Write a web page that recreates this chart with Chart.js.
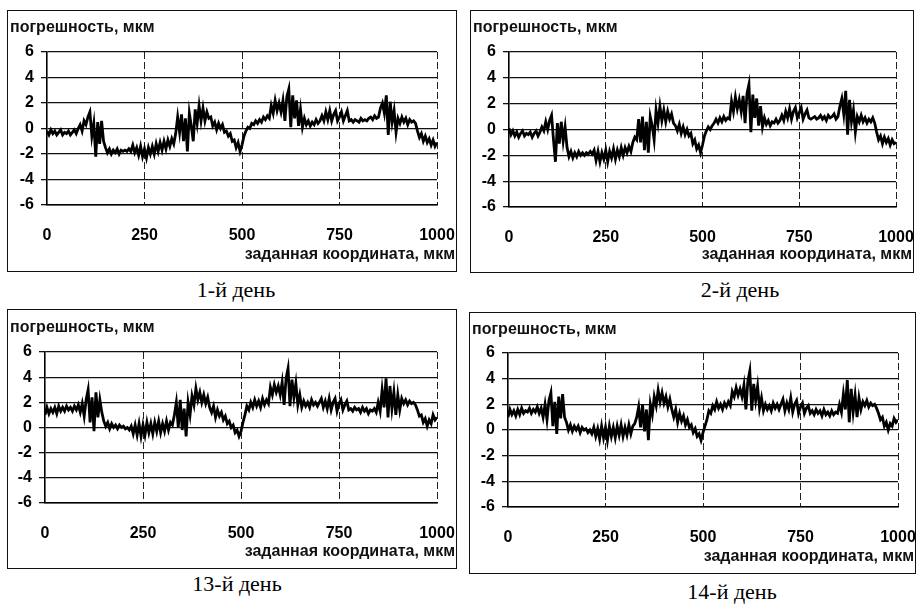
<!DOCTYPE html>
<html>
<head>
<meta charset="utf-8">
<script src="https://cdn.jsdelivr.net/npm/chart.js@4.4.0/dist/chart.umd.min.js"></script>
<style>
  body { margin: 0; background: #fff; width: 916px; height: 605px; position: relative; overflow: hidden; }
  .panel { position: absolute; }
  .panel canvas { position: absolute; left: 0; top: 0; }
  .panel::after { content: ''; position: absolute; left: 0; top: 0; right: 0; bottom: 0; border: 1.5px solid #111; pointer-events: none; }
  .ytitle { position: absolute; left: 3px; font: bold 16px "Liberation Sans", Arial, sans-serif; color: #111; white-space: nowrap; }
  .xtitle { position: absolute; right: 2px; font: bold 16px "Liberation Sans", Arial, sans-serif; color: #111; white-space: nowrap; }
  .caption { position: absolute; font: 22px "Liberation Serif", "Times New Roman", serif; color: #000; transform: translateX(-50%); white-space: nowrap; }
</style>
</head>
<body>

<div class="panel" id="p1" style="left:7px;top:10px;width:450px;height:262px">
  <canvas id="c1" width="450" height="262"></canvas>
  <div class="ytitle" style="top:8px">погрешность, мкм</div>
  <div class="xtitle" style="top:235px">заданная координата, мкм</div>
</div>
<div class="caption" style="left:236px;top:277px">1-й день</div>

<div class="panel" id="p2" style="left:470px;top:10px;width:444px;height:263px">
  <canvas id="c2" width="444" height="263"></canvas>
  <div class="ytitle" style="top:8px">погрешность, мкм</div>
  <div class="xtitle" style="top:235px">заданная координата, мкм</div>
</div>
<div class="caption" style="left:740px;top:277px">2-й день</div>

<div class="panel" id="p3" style="left:7px;top:309px;width:450px;height:260px">
  <canvas id="c3" width="450" height="260"></canvas>
  <div class="ytitle" style="top:9px">погрешность, мкм</div>
  <div class="xtitle" style="top:233px">заданная координата, мкм</div>
</div>
<div class="caption" style="left:237px;top:571px">13-й день</div>

<div class="panel" id="p4" style="left:469px;top:312px;width:447px;height:262px">
  <canvas id="c4" width="447" height="262"></canvas>
  <div class="ytitle" style="top:8px">погрешность, мкм</div>
  <div class="xtitle" style="top:235px">заданная координата, мкм</div>
</div>
<div class="caption" style="left:732px;top:579px">14-й день</div>

<script>
// sample positions along the axis, мкм
const positions = [
  0, 5, 10, 15, 20, 25, 30, 35, 40, 45, 50, 55, 60, 65, 70, 75, 80, 85, 90, 95,
  100, 105, 110, 115, 120, 125, 130, 135, 140, 145, 150, 155, 160, 165, 170, 175, 180, 185, 190, 195,
  200, 205, 210, 215, 220, 225, 230, 235, 240, 245, 250, 255, 260, 265, 270, 275, 280, 285, 290, 295,
  300, 305, 310, 315, 320, 325, 330, 335, 340, 345, 350, 355, 360, 365, 370, 375, 380, 385, 390, 395,
  400, 405, 410, 415, 420, 425, 430, 435, 440, 445, 450, 455, 460, 465, 470, 475, 480, 485, 490, 495,
  500, 505, 510, 515, 520, 525, 530, 535, 540, 545, 550, 555, 560, 565, 570, 575, 580, 585, 590, 595,
  600, 605, 610, 615, 620, 625, 630, 635, 640, 645, 650, 655, 660, 665, 670, 675, 680, 685, 690, 695,
  700, 705, 710, 715, 720, 725, 730, 735, 740, 745, 750, 755, 760, 765, 770, 775, 780, 785, 790, 795,
  800, 805, 810, 815, 820, 825, 830, 835, 840, 845, 850, 855, 860, 865, 870, 875, 880, 885, 890, 895,
  900, 905, 910, 915, 920, 925, 930, 935, 940, 945, 950, 955, 960, 965, 970, 975, 980, 985, 990, 995,
  1000
];

// погрешность, мкм — 1-й день
const day1 = [
  -0.2, -0.5, -0.1, -0.4, -0.2, -0.5, -0.3, -0.1, -0.5, -0.3,
  -0.4, -0.2, -0.5, -0.3, -0.1, -0.4, 0.0, 0.3, -0.2, 0.6,
  0.3, 0.9, 1.3, -0.6, 0.4, -2.2, 0.5, -1.2, 0.6, -1.0,
  -1.5, -1.9, -1.6, -2.0, -1.7, -1.9, -1.6, -2.0, -1.7, -1.8,
  -1.7, -1.8, -1.6, -1.8, -1.3, -1.9, -1.5, -2.1, -1.4, -2.2,
  -1.6, -2.3, -1.5, -2.0, -1.4, -2.0, -1.2, -1.8, -1.1, -1.7,
  -1.0, -1.6, -0.9, -1.4, -0.8, -1.2, -0.4, 0.9, -0.3, 1.1,
  -1.0, 0.8, -1.8, 1.2, 0.2, -1.0, 1.5, 0.4, 1.8, 0.6,
  1.6, 0.6, 1.3, 0.8, 0.9, 0.2, 0.5, -0.1, 0.4, 0.0,
  0.3, -0.3, -0.2, -0.6, -0.4, -1.0, -0.9, -1.5, -1.1, -1.8,
  -1.3, -0.6, -0.2, 0.1, 0.0, 0.4, 0.3, 0.6, 0.4, 0.7,
  0.5, 0.9, 0.7, 1.0, 0.8, 1.8, 1.2, 2.2, 1.4, 2.0,
  1.3, 2.2, 0.6, 2.5, 3.1, 0.1, 2.6, 0.8, 2.2, 0.2,
  1.5, 0.1, 0.8, 0.3, 0.6, 0.2, 0.5, 0.3, 0.7, 0.4,
  0.6, 1.0, 0.6, 1.3, 0.7, 1.4, 0.6, 1.1, 1.4, 0.6,
  0.9, 1.3, 0.6, 1.0, 1.4, 0.6, 0.7, 0.5, 0.7, 0.6,
  0.5, 0.8, 0.6, 0.7, 0.6, 0.8, 0.9, 0.7, 1.0, 0.8,
  0.9, 1.6, 2.0, 1.2, 2.6, -0.5, 2.1, 0.5, 1.4, -0.3,
  0.8, 0.4, 0.9, 0.5, 0.8, 0.3, 0.7, 0.5, 0.6, 0.4,
  -0.2, -0.7, -0.4, -1.0, -0.6, -1.1, -0.8, -1.3, -0.9, -1.4,
  -1.1
];

// погрешность, мкм — 2-й день
const day2 = [
  0.1, -0.4, -0.1, -0.5, -0.2, -0.6, -0.3, -0.1, -0.5, -0.3,
  -0.4, -0.2, -0.6, -0.3, -0.1, -0.5, -0.2, 0.2, -0.1, 0.6,
  0.0, 0.7, 1.1, -0.8, -2.5, 0.5, -1.1, 0.6, -0.9, 0.2,
  -1.4, -2.1, -1.7, -2.2, -1.8, -2.1, -1.7, -2.0, -1.8, -2.0,
  -1.8, -1.9, -1.7, -1.9, -1.6, -2.4, -1.7, -2.5, -1.8, -2.3,
  -1.6, -2.5, -1.7, -2.2, -1.5, -2.3, -1.6, -2.1, -1.4, -2.0,
  -1.4, -1.8, -1.3, -1.7, -1.0, -0.6, -0.8, 0.8, -1.0, 1.0,
  -1.6, 0.6, -1.8, 1.0, 0.3, -0.8, 1.5, 0.5, 1.8, 0.7,
  1.5, 0.6, 1.4, 0.8, 1.2, 0.5, 0.3, -0.1, 0.4, -0.3,
  0.2, -0.4, 0.0, -0.5, -0.3, -1.1, -0.8, -1.5, -1.2, -1.8,
  -1.2, -0.5, -0.1, 0.2, 0.0, 0.3, 0.5, 0.8, 0.5, 0.9,
  0.6, 1.0, 0.7, 0.9, 0.8, 2.2, 1.4, 2.5, 1.6, 2.3,
  1.4, 2.6, 0.5, 2.8, 3.5, -0.2, 2.7, 0.9, 2.4, 0.3,
  1.8, 0.2, 0.9, 0.4, 0.7, 0.3, 0.6, 0.5, 0.8, 0.5,
  0.7, 1.1, 0.7, 1.4, 0.9, 1.6, 0.8, 1.4, 1.7, 0.9,
  1.3, 1.7, 0.8, 1.2, 1.5, 0.9, 0.8, 0.9, 1.0, 0.8,
  0.9, 1.1, 0.8, 1.0, 0.7, 1.1, 0.9, 1.0, 1.2, 0.8,
  1.0, 1.8, 2.4, 1.2, 3.0, -0.4, 2.3, 0.6, 1.5, -0.2,
  1.0, 0.6, 1.1, 0.6, 0.9, 0.5, 0.8, 0.6, 0.9, 0.5,
  -0.2, -0.8, -0.5, -1.1, -0.6, -1.0, -0.7, -1.2, -0.8, -1.1,
  -1.0
];

// погрешность, мкм — 13-й день
const day13 = [
  1.0, 1.6, 1.1, 1.5, 1.2, 1.6, 1.1, 1.7, 1.3, 1.6,
  1.3, 1.7, 1.4, 1.6, 1.3, 1.7, 1.4, 1.8, 1.2, 1.9,
  0.9, 2.2, 3.0, 0.4, 2.4, -0.3, 2.8, 0.8, 2.2, 1.2,
  0.5, 0.1, 0.4, -0.1, 0.3, 0.0, 0.2, -0.1, 0.2, 0.0,
  0.1, -0.1, 0.0, -0.2, 0.1, -0.5, 0.2, -0.6, 0.3, -0.7,
  0.2, -0.6, 0.4, -0.4, 0.3, -0.5, 0.4, -0.3, 0.5, -0.4,
  0.3, -0.3, 0.5, -0.2, 0.4, 0.2, 1.0, 2.0, 0.0, 2.2,
  -0.2, 1.5, -0.7, 2.0, 1.0, 2.5, 1.8, 3.1, 2.2, 2.8,
  2.0, 2.6, 1.9, 2.4, 1.6, 1.2, 1.7, 0.8, 1.4, 0.9,
  1.2, 0.6, 0.9, 0.3, 0.5, 0.0, 0.2, -0.4, -0.2, -0.7,
  -0.3, 0.4, 1.0, 1.7, 1.4, 2.0, 1.6, 2.2, 1.7, 2.1,
  1.6, 2.3, 1.8, 2.2, 1.9, 3.2, 2.6, 3.4, 2.8, 3.3,
  2.6, 3.6, 1.8, 3.9, 4.7, 1.7, 3.8, 2.4, 3.5, 1.8,
  2.6, 1.6, 2.1, 1.7, 2.0, 1.6, 2.2, 1.8, 2.0, 1.7,
  2.0, 2.3, 1.6, 2.1, 1.5, 2.3, 1.4, 2.0, 2.3, 1.3,
  1.9, 2.2, 1.4, 1.8, 2.1, 1.4, 1.5, 1.3, 1.6, 1.4,
  1.5, 1.2, 1.6, 1.3, 1.5, 1.1, 1.4, 1.3, 1.5, 1.2,
  2.0, 1.3, 3.0, 1.6, 3.9, 0.8, 3.3, 1.5, 2.8, 1.0,
  2.6, 1.4, 2.3, 1.9, 2.2, 1.8, 2.1, 1.9, 2.0, 1.8,
  1.4, 0.9, 1.0, 0.4, 0.7, 0.1, 0.6, 0.3, 1.0, 0.6,
  0.8
];

// погрешность, мкм — 14-й день
const day14 = [
  1.0, 1.6, 1.2, 1.5, 1.1, 1.6, 1.2, 1.7, 1.3, 1.5,
  1.4, 1.7, 1.3, 1.6, 1.4, 1.8, 1.3, 1.7, 1.0, 2.0,
  0.8, 2.3, 2.9, 0.3, 2.2, -0.3, 2.6, 0.9, 2.8, 1.0,
  0.6, 0.0, 0.4, -0.1, 0.3, 0.0, 0.3, -0.2, 0.2, 0.0,
  0.1, -0.2, 0.0, -0.3, 0.2, -0.5, 0.1, -0.7, 0.3, -0.6,
  0.2, -0.8, 0.3, -0.5, 0.2, -0.6, 0.3, -0.4, 0.4, -0.5,
  0.2, -0.4, 0.4, -0.3, 0.3, 0.5, 1.0, 1.8, 0.2, 2.0,
  -0.1, 1.6, -0.8, 2.0, 1.2, 2.6, 1.9, 3.1, 2.2, 2.9,
  2.1, 2.6, 1.8, 2.4, 1.6, 1.0, 1.6, 0.6, 1.3, 0.7,
  1.1, 0.4, 0.8, 0.2, 0.4, -0.2, 0.1, -0.5, -0.3, -0.8,
  -0.2, 0.3, 0.8, 1.5, 1.3, 1.9, 1.6, 2.2, 1.7, 2.0,
  1.6, 2.1, 1.8, 2.2, 1.9, 3.0, 2.6, 3.3, 2.7, 3.2,
  2.6, 3.5, 1.6, 3.8, 4.6, 1.5, 3.6, 2.3, 3.4, 1.7,
  2.5, 1.5, 2.0, 1.6, 1.9, 1.5, 2.1, 1.7, 2.0, 1.6,
  2.0, 2.4, 1.5, 2.1, 1.6, 2.5, 1.4, 2.0, 2.3, 1.3,
  1.8, 2.1, 1.3, 1.7, 1.9, 1.3, 1.5, 1.2, 1.6, 1.3,
  1.5, 1.1, 1.6, 1.2, 1.4, 1.1, 1.5, 1.2, 1.4, 1.3,
  2.0, 1.4, 2.8, 1.6, 3.9, 0.6, 3.2, 1.4, 2.7, 1.0,
  2.5, 1.6, 2.2, 1.9, 2.3, 1.8, 2.1, 1.9, 2.0, 1.7,
  1.3, 0.8, 1.0, 0.3, 0.6, 0.0, 0.5, 0.3, 0.9, 0.6,
  0.8
];

const xTicks = [0, 250, 500, 750, 1000];
const yTicks = [-6, -4, -2, 0, 2, 4, 6];

const tickFont = { family: '"Liberation Sans", Arial, sans-serif', size: 16, weight: 'bold' };

// draw one panel; m = margins of the plot area inside the canvas
function panel(id, values, m) {
  new Chart(document.getElementById(id), {
    type: 'line',
    data: {
      datasets: [{
        data: values.map((v, i) => ({ x: positions[i], y: v })),
        borderColor: '#000',
        borderWidth: 2.8,
        pointRadius: 0,
        tension: 0
      }]
    },
    options: {
      responsive: false,
      animation: false,
      layout: { padding: { left: 0, top: m.top, right: m.right, bottom: 0 } },
      plugins: { legend: { display: false }, tooltip: { enabled: false } },
      scales: {
        x: {
          type: 'linear',
          min: 0, max: 1000,
          afterBuildTicks: s => { s.ticks = xTicks.map(v => ({ value: v })); },
          afterFit: s => { s.height = m.bottom; s.paddingLeft = 0; s.paddingRight = 0; },
          ticks: { font: tickFont, color: '#000', padding: 21, maxRotation: 0, callback: v => String(v) },
          // the line at 0 is the solid y axis itself
          grid: {
            color: c => (c.tick && c.tick.value === 0) ? 'rgba(0,0,0,0)' : '#222',
            lineWidth: 1, drawTicks: false
          },
          border: { display: true, color: '#000', width: 1.5, dash: [7, 3] }
        },
        y: {
          min: -6, max: 6,
          afterBuildTicks: s => { s.ticks = yTicks.map(v => ({ value: v })); },
          afterFit: s => { s.width = m.left; s.paddingTop = 0; s.paddingBottom = 0; },
          ticks: { font: tickFont, color: '#000', padding: 7, callback: v => String(v) },
          grid: { color: '#111', lineWidth: 1.3, tickLength: 6 },
          border: { display: true, color: '#000', width: 1.6 }
        }
      }
    }
  });
}

panel('c1', day1, { left: 40, top: 42, right: 20, bottom: 67 });
panel('c2', day2, { left: 39, top: 42, right: 18, bottom: 66 });
panel('c3', day13, { left: 38, top: 43, right: 20, bottom: 66 });
panel('c4', day14, { left: 39, top: 41, right: 18, bottom: 67 });
</script>
</body>
</html>
